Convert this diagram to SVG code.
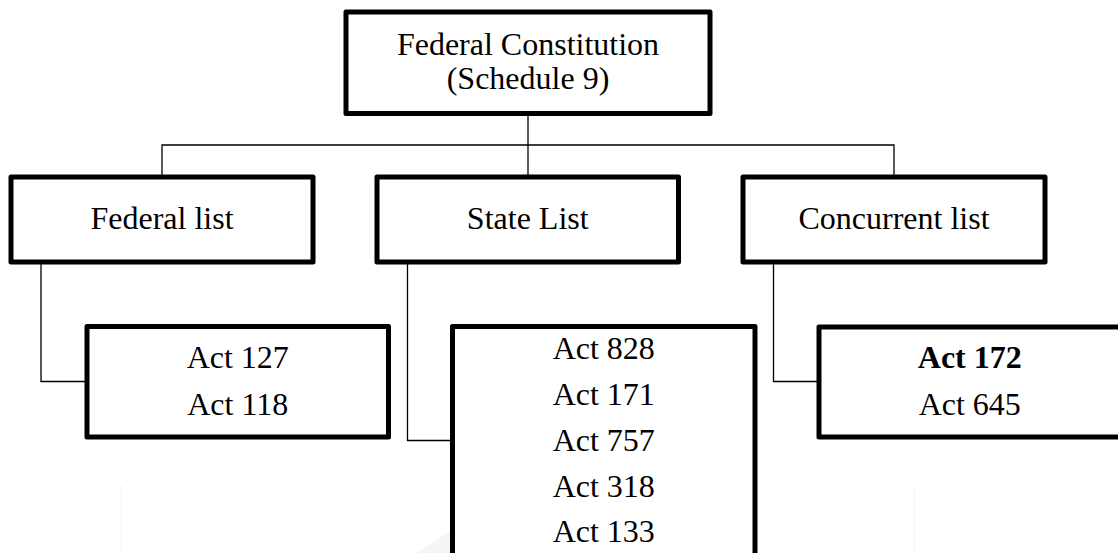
<svg xmlns="http://www.w3.org/2000/svg" width="1118" height="553" viewBox="0 0 1118 553">
  <style>
    .box { fill: #ffffff; stroke: #000000; stroke-width: 5; stroke-linejoin: round; }
    .wire { fill: none; stroke: #000000; stroke-width: 1.3; }
    .label { font-family: "Liberation Serif", "Times New Roman", serif; font-size: 32px; fill: #000000; text-anchor: middle; }
    .bold { font-weight: bold; }
    .faint { fill: #f5f5f5; stroke: none; }
    .faint-line { stroke: #f3f3f3; stroke-width: 1; }
  </style>

  <rect x="0" y="0" width="1118" height="553" fill="#ffffff"/>

  <!-- faint background mark -->
  <g id="backdrop">
    <polygon class="faint" points="518,485 619,553 574,553 518,523 462,553 417,553"/>
    <line class="faint-line" x1="121" y1="485" x2="121" y2="553"/>
    <line class="faint-line" x1="914" y1="485" x2="914" y2="553"/>
  </g>

  <!-- connectors -->
  <g id="connectors">
    <polyline class="wire" points="528,116 528,145"/>
    <polyline class="wire" points="162,177 162,145 894,145 894,177"/>
    <polyline class="wire" points="528,145 528,177"/>
    <polyline class="wire" points="41,262 41,381.5 87,381.5"/>
    <polyline class="wire" points="407.5,262 407.5,440.5 452.5,440.5"/>
    <polyline class="wire" points="773.5,262 773.5,381.5 819,381.5"/>
  </g>

  <g id="constitution">
    <rect class="box" x="346" y="12" width="364" height="101.5"/>
    <text class="label" x="528" y="55">Federal Constitution</text>
    <text class="label" x="528" y="88.5">(Schedule 9)</text>
  </g>

  <g id="federal-list">
    <rect class="box" x="11" y="177" width="302" height="85"/>
    <text class="label" x="162" y="229">Federal list</text>
  </g>

  <g id="state-list">
    <rect class="box" x="377" y="177" width="301.5" height="85"/>
    <text class="label" x="527.75" y="229">State List</text>
  </g>

  <g id="concurrent-list">
    <rect class="box" x="743" y="177" width="302" height="85"/>
    <text class="label" x="894" y="229">Concurrent list</text>
  </g>

  <g id="federal-acts">
    <rect class="box" x="87" y="326.5" width="301.5" height="110.5"/>
    <text class="label" x="237.75" y="368.3">Act 127</text>
    <text class="label" x="237.75" y="415">Act 118</text>
  </g>

  <g id="state-acts">
    <rect class="box" x="452.5" y="326.5" width="302.5" height="260"/>
    <text class="label" x="603.75" y="359">Act 828</text>
    <text class="label" x="603.75" y="405">Act 171</text>
    <text class="label" x="603.75" y="450.7">Act 757</text>
    <text class="label" x="603.75" y="496.7">Act 318</text>
    <text class="label" x="603.75" y="542.3">Act 133</text>
  </g>

  <g id="concurrent-acts">
    <rect class="box" x="819" y="327" width="301.5" height="110"/>
    <text class="label bold" x="969.75" y="368.3">Act 172</text>
    <text class="label" x="969.75" y="415">Act 645</text>
  </g>
</svg>
